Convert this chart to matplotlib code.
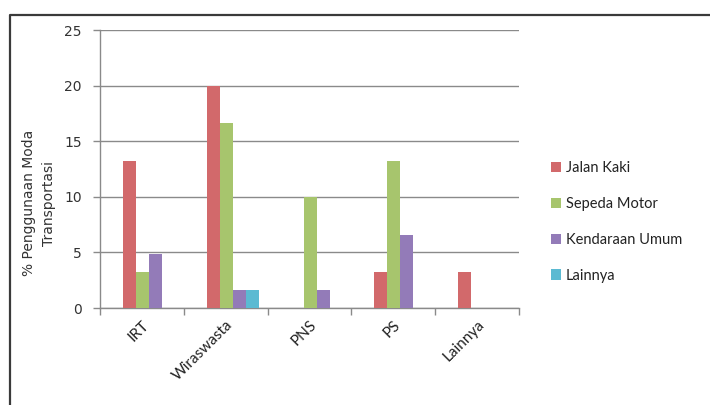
import matplotlib
matplotlib.use("Agg")
import matplotlib.pyplot as plt
from matplotlib.lines import Line2D
import numpy as np

# categories and series (% penggunaan moda transportasi per pekerjaan)
pekerjaan = ["IRT", "Wiraswasta", "PNS", "PS", "Lainnya"]
jalan_kaki = [13.2, 20.0, 0.0, 3.2, 3.2]
sepeda_motor = [3.2, 16.6, 10.0, 13.2, 0.0]
kendaraan_umum = [4.9, 1.6, 1.6, 6.6, 0.0]
lainnya = [0.0, 1.6, 0.0, 0.0, 0.0]
y_ticks = [0, 5, 10, 15, 20, 25]

series = [
    ("Jalan Kaki", jalan_kaki, "#D2696B"),
    ("Sepeda Motor", sepeda_motor, "#A7C56D"),
    ("Kendaraan Umum", kendaraan_umum, "#937BB8"),
    ("Lainnya", lainnya, "#5BBAD2"),
]

fig = plt.figure(figsize=(7.1, 4.05), dpi=100)
ax = fig.add_axes([100 / 710, 1 - 308 / 405, 419 / 710, 278 / 405])

# outer chart frame (top and left edge visible)
fig.add_artist(Line2D([10 / 710, 10 / 710, 1.0], [0.0, 1 - 15 / 405, 1 - 15 / 405],
                      transform=fig.transFigure, color="#3a3a3a", lw=1.6))

x = np.arange(len(pekerjaan))
w = 0.155
left = -0.225
for k, (name, vals, col) in enumerate(series):
    ax.bar(x + left + w * (k + 0.5), vals, width=w, color=col, label=name,
           zorder=3, linewidth=0)

ax.set_xlim(-0.5, len(pekerjaan) - 0.5)
ax.set_ylim(0, 25)
ax.set_yticks(y_ticks)
ax.set_yticklabels([str(t) for t in y_ticks], fontsize=10, color="#333333",
                   family="DejaVu Sans")
ax.yaxis.grid(True, color="#8a8a8a", lw=1.0, zorder=0)
ax.set_axisbelow(True)

# category boundaries as tick marks, labels in the middle
ax.set_xticks(np.arange(-0.5, len(pekerjaan)), minor=False)
ax.set_xticklabels([])
ax.set_xticks(x, minor=True)
ax.set_xticklabels(pekerjaan, minor=True, rotation=45, ha="right", va="top",
                   rotation_mode="anchor", fontsize=11, color="#222222",
                   family="Lato")
ax.tick_params(axis="x", which="minor", length=0, pad=7)
ax.tick_params(axis="x", which="major", length=5, color="#8a8a8a", width=1)
ax.tick_params(axis="y", length=5, color="#8a8a8a", width=1, pad=8)

for s in ["top", "right"]:
    ax.spines[s].set_visible(False)
for s in ["left", "bottom"]:
    ax.spines[s].set_color("#8a8a8a")
    ax.spines[s].set_linewidth(1.0)

fig.text(39 / 710, 1 - 203 / 405, "% Penggunaan Moda\nTransportasi", rotation=90,
         ha="center", va="center", fontsize=10, color="#333333",
         family="DejaVu Sans", linespacing=1.5)

leg = ax.legend(loc="center left", bbox_to_anchor=(1.045, 0.31), frameon=False,
                handlelength=0.7, handleheight=0.7, handletextpad=0.3,
                labelspacing=1.5, prop={"family": "Lato", "size": 10.5})
for t in leg.get_texts():
    t.set_color("#222222")

fig.savefig("out.png", dpi=100)
